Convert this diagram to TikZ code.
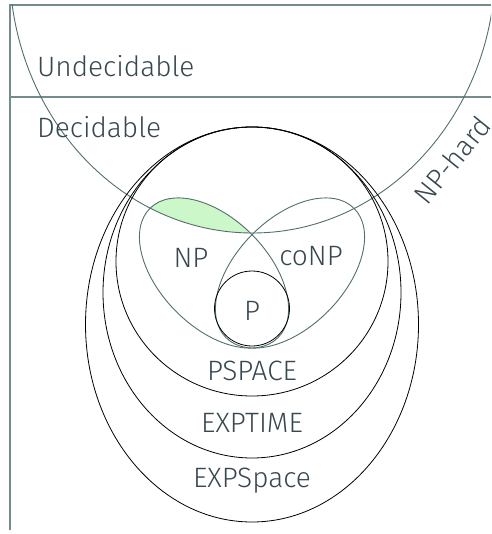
\documentclass[tikz,border=0pt]{standalone}
\usepackage{fontspec}
\setmainfont{Fira Sans}[UprightFont={* Light}]
\definecolor{txt}{RGB}{55,71,79}
\definecolor{gline}{RGB}{84,110,110}
\definecolor{npc}{RGB}{204,247,200}
\begin{document}
\begin{tikzpicture}[x=1pt,y=-1pt,
  lbl/.style={text=txt,font=\fontsize{28}{32}\selectfont,inner sep=0pt},
  gl/.style={draw=gline,line width=0.9pt},
  fr/.style={draw=gline!80,line width=1.2pt},
  cls/.style={draw=black,line width=0.8pt}]
\useasboundingbox (0,0) rectangle (491,534);
% green NP-complete region
\begin{scope}
  \clip[rotate around={-45.4:(214,273)}] (214,273) ellipse [x radius=91pt, y radius=54pt];
  \fill[npc] (252.5,-35) ellipse [x radius=243pt, y radius=268pt];
\end{scope}
% frame
\coordinate (tr) at (491,5);
\coordinate (tl) at (10,5);
\coordinate (bl) at (10,530);
\coordinate (ml) at (10,97);
\coordinate (mr) at (491,97);
\draw[fr] (tr) -- (tl) -- (bl);
\draw[fr] (ml) -- (mr);
% NP-hard arc
\begin{scope}
  \clip (10,5) rectangle (491,534);
  \draw[gl] (252.5,-35) ellipse [x radius=243pt, y radius=268pt];
\end{scope}
% complexity classes
\draw[cls] (252,324.5) ellipse [x radius=166.5pt, y radius=197.5pt];
\draw[cls] (252,292.5) ellipse [x radius=149pt, y radius=165.5pt];
\draw[cls] (252,261.5) ellipse [x radius=136pt, y radius=134.5pt];
\draw[gl,rotate around={-45.4:(214,273)}] (214,273) ellipse [x radius=91pt, y radius=54pt];
\draw[gl,rotate around={45.4:(290,273)}] (290,273) ellipse [x radius=91pt, y radius=54pt];
\draw[cls] (252,308.5) circle [radius=37.5pt];
% labels
\node[lbl,anchor=base west] (und) at (37,77) {Undecidable};
\node[lbl,anchor=base west] (dec) at (37,138) {Decidable};
\node[lbl,anchor=base] (np) at (191,267) {NP};
\node[lbl,anchor=base] (conp) at (311,265) {coNP};
\node[lbl,anchor=base] (p) at (252,320) {P};
\node[lbl,anchor=base] (pspace) at (252,380) {PSPACE};
\node[lbl,anchor=base] (exptime) at (252,432) {EXPTIME};
\node[lbl,anchor=base] (expspace) at (252,487) {EXPSpace};
\node[lbl,rotate=51] (nphard) at (452,160) {NP-hard};
\end{tikzpicture}
\end{document}
